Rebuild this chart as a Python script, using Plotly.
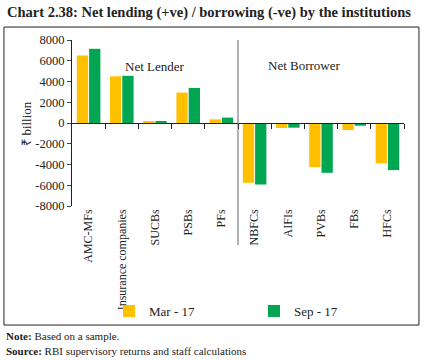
import plotly.graph_objects as go

categories = ["AMC-MFs", "Insurance companies", "SUCBs", "PSBs", "PFs",
              "NBFCs", "AIFIs", "PVBs", "FBs", "HFCs"]
mar17 = [6500, 4500, 100, 2930, 350, -5760, -480, -4250, -680, -3900]
sep17 = [7150, 4550, 150, 3380, 520, -5930, -450, -4800, -260, -4540]
y_ticks = [8000, 6000, 4000, 2000, 0, -2000, -4000, -6000, -8000]

FONT = "Liberation Serif"
fig = go.Figure()
fig.add_trace(go.Bar(x=list(range(len(categories))), y=mar17, name="Mar - 17",
                     marker=dict(color="#FFC000", line=dict(width=0))))
fig.add_trace(go.Bar(x=list(range(len(categories))), y=sep17, name="Sep - 17",
                     marker=dict(color="#00A651", line=dict(width=0))))

fig.update_layout(
    width=424, height=360,
    margin=dict(l=72, r=20, t=40, b=154, autoexpand=False),
    paper_bgcolor="white", plot_bgcolor="white",
    font=dict(family=FONT, size=12, color="#222"),
    barmode="group", bargap=0.26, bargroupgap=0.08,
    showlegend=True,
    legend=dict(orientation="h", xref="container", yref="container",
                x=109 / 424, y=1 - 311 / 360, xanchor="left", yanchor="middle",
                entrywidth=100, entrywidthmode="pixels",
                font=dict(family=FONT, size=13), itemwidth=30,
                tracegroupgap=0, bgcolor="rgba(0,0,0,0)"),
    xaxis=dict(range=[-0.5, 9.5], tickmode="array", automargin=False,
               tickvals=list(range(len(categories))), ticktext=categories,
               tickangle=-90, ticks="", showline=False, showgrid=False,
               zeroline=False, tickfont=dict(family=FONT, size=12)),
    xaxis2=dict(range=[-0.5, 9.5], overlaying="x", anchor="free", position=0.5,
                side="bottom", tickmode="array", automargin=False,
                tickvals=[i + 0.5 for i in range(len(categories))],
                ticks="outside", ticklen=5, tickcolor="#222",
                showticklabels=False, showline=True, linecolor="#222",
                linewidth=1, showgrid=False, zeroline=False),
    yaxis=dict(range=[-8000, 8000], tickmode="array", tickvals=y_ticks,
               ticktext=[str(v) for v in y_ticks], automargin=False,
               ticks="outside", ticklen=4, showline=True, linecolor="#222",
               linewidth=1, showgrid=False, zeroline=False,
               tickfont=dict(family=FONT, size=12.5)),
    title=dict(text="<b>Chart 2.38: Net lending (+ve) / borrowing (-ve) by the institutions</b>",
               xref="container", yref="container",
               x=7 / 424, xanchor="left", y=1 - 12 / 360, yanchor="middle",
               font=dict(family=FONT, size=14.5, color="#222")),
)

# dummy invisible trace so xaxis2 renders
fig.add_trace(go.Scatter(x=[0], y=[0], xaxis="x2", mode="markers",
                         marker=dict(opacity=0), showlegend=False, hoverinfo="skip"))

# separator line between lenders and borrowers
fig.add_shape(type="line", xref="x", yref="paper", x0=4.5, x1=4.5, y0=-0.235, y1=1.0,
              line=dict(color="#666", width=1))
# outer box
fig.add_shape(type="rect", xref="paper", yref="paper", x0=-0.205, x1=1.045,
              y0=-0.717, y1=1.078, line=dict(color="#222", width=1))

# y-axis title
fig.add_annotation(text="₹ billion", xref="paper", yref="paper", x=-0.139, y=0.5,
                   xanchor="center", yanchor="middle", textangle=-90,
                   showarrow=False, font=dict(family=FONT, size=13))
fig.add_annotation(text="Net Lender", xref="paper", yref="paper", x=0.25, y=0.843,
                   xanchor="center", yanchor="middle",
                   showarrow=False, font=dict(family=FONT, size=13))
fig.add_annotation(text="Net Borrower", xref="paper", yref="paper", x=0.70, y=0.849,
                   xanchor="center", yanchor="middle",
                   showarrow=False, font=dict(family=FONT, size=13))
fig.add_annotation(text="<b>Note:</b> Based on a sample.", xref="paper", yref="paper",
                   x=-0.205, y=-0.785, xanchor="left", yanchor="middle", showarrow=False,
                   font=dict(family=FONT, size=11))
fig.add_annotation(text="<b>Source:</b> RBI supervisory returns and staff calculations",
                   xref="paper", yref="paper", x=-0.205, y=-0.875, xanchor="left",
                   yanchor="middle", showarrow=False, font=dict(family=FONT, size=11))

fig.write_html("out.html", config={"displayModeBar": False},
               post_script="document.body.style.margin='0';")
